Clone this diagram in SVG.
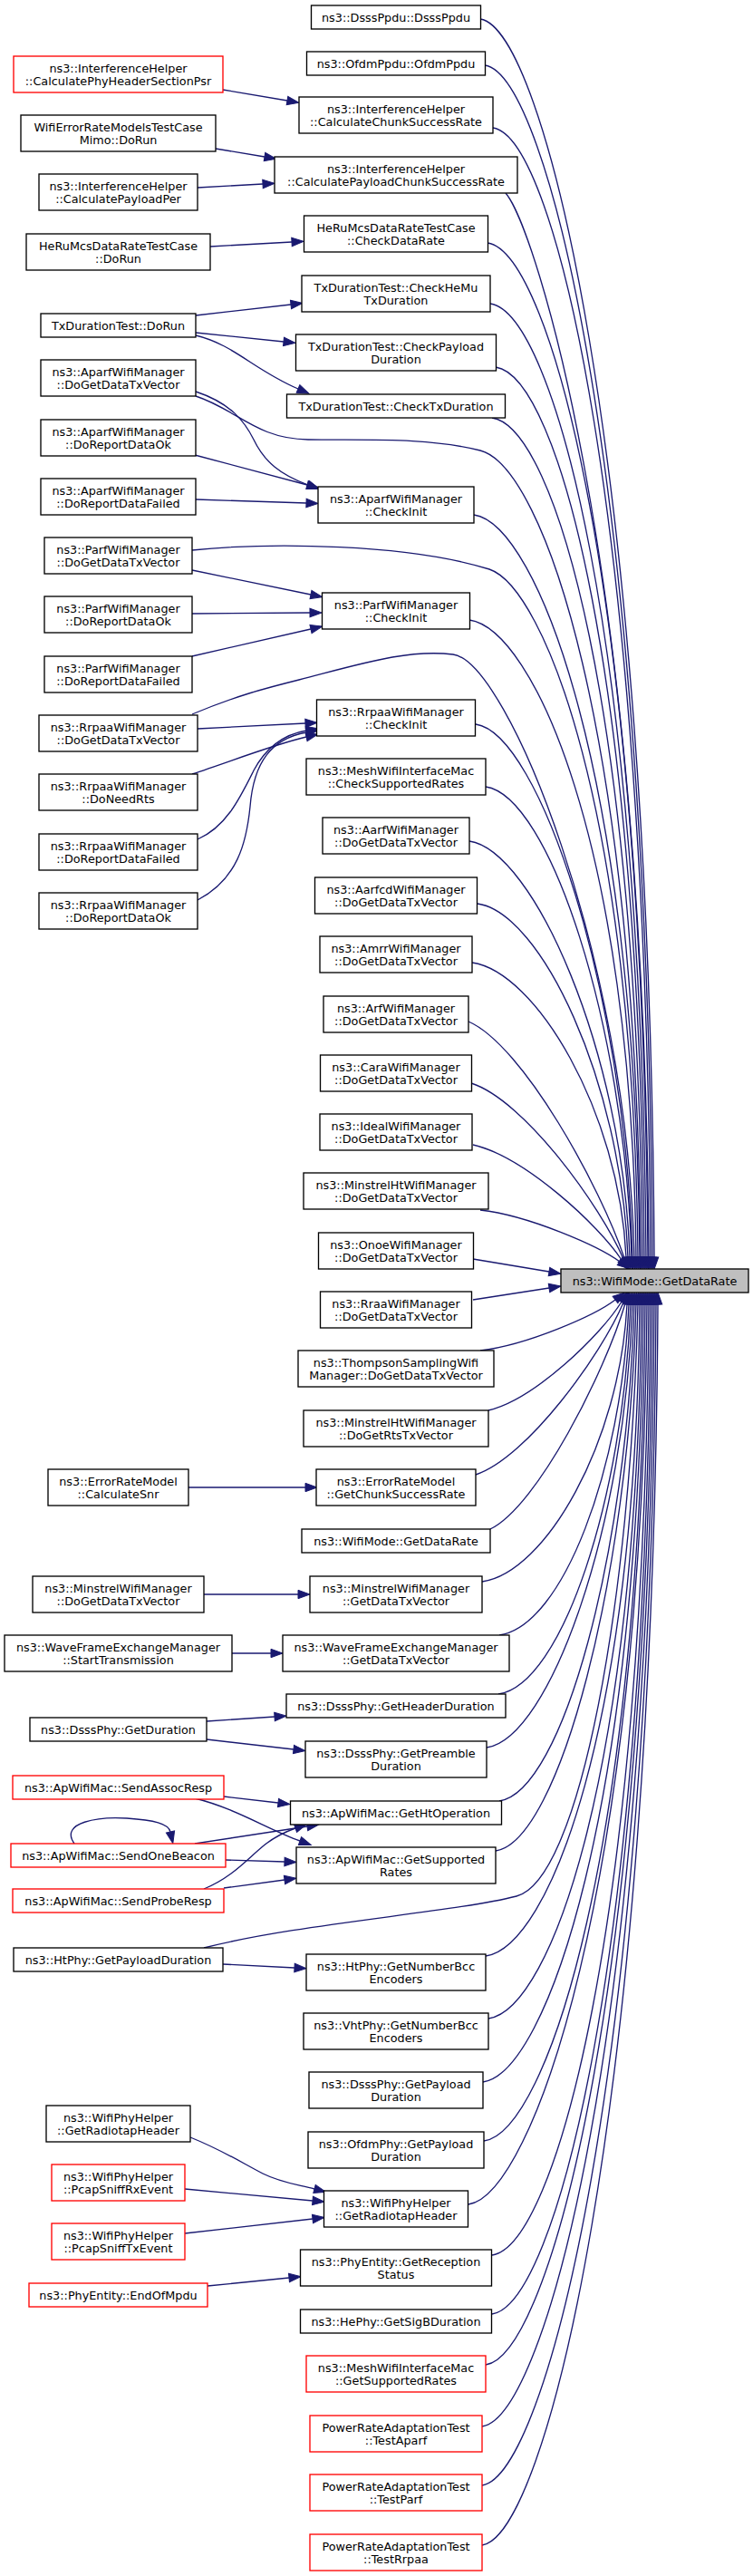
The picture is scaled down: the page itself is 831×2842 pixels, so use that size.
<svg xmlns="http://www.w3.org/2000/svg" width="831" height="2842" viewBox="0 0 831 2842">
<style>
.nd rect{fill:#fff;stroke:#000;stroke-width:1.33}
.rd rect{fill:#fff;stroke:#f00;stroke-width:1.33}
.tg rect{fill:#bfbfbf;stroke:#000;stroke-width:1.33}
text{font-family:"DejaVu Sans",sans-serif;font-size:12.8px;text-anchor:middle;fill:#000}
.edges path{fill:none;stroke:#191970;stroke-width:1.33;marker-end:url(#a)}
</style>
<defs>
<marker id="a" markerWidth="13" markerHeight="10" refX="0" refY="5" orient="auto" markerUnits="userSpaceOnUse" viewBox="0 0 13 10" overflow="visible">
<path d="M0,0.3 L13,5 L0,9.7 z" fill="#191970" stroke="#191970" stroke-width="1"/>
</marker>
</defs>
<rect width="831" height="2842" fill="#fff"/>
<g class="edges">
<path d="M246,99 L317,111"/>
<path d="M238,164 L292,173"/>
<path d="M218,207 L290,203"/>
<path d="M232,272 L322,267"/>
<path d="M216,348 L321,336"/>
<path d="M216,367 L313,377"/>
<path d="M216,370 C258,380 280,408 329,429"/>
<path d="M216,432 C255,445 270,465 280,485 C292,510 310,524 340,535"/>
<path d="M215,502 L339,535"/>
<path d="M216,551 L338,555"/>
<path d="M212,629 L343,656"/>
<path d="M212,677 L342,676"/>
<path d="M212,724 L343,694"/>
<path d="M218,804 L337,798"/>
<path d="M212,854 C255,840 300,822 338,813"/>
<path d="M218,926 C250,912 265,880 280,850 C295,822 315,810 338,806"/>
<path d="M218,993 C262,970 272,930 276,890 C280,840 300,815 338,808"/>
<path d="M208,1641 L337,1641"/>
<path d="M225,1759 L329,1759"/>
<path d="M256,1824 L299,1824"/>
<path d="M228,1899 L303,1894"/>
<path d="M228,1919 L324,1930"/>
<path d="M247,1982 L307,1989"/>
<path d="M215,1984 C260,1995 295,2018 331,2031"/>
<path d="M82,2034 C65,2010 110,2004 140,2006 C170,2008 186,2012 188,2021"/>
<path d="M215,2034 L339,2015"/>
<path d="M249,2052 L314,2054"/>
<path d="M225,2084 C255,2072 272,2052 290,2037 C302,2027 312,2022 326,2017"/>
<path d="M247,2083 L314,2074"/>
<path d="M246,2167 L325,2171"/>
<path d="M210,2358 C245,2372 265,2385 290,2398 C310,2408 328,2410 347,2415"/>
<path d="M204,2415 L345,2428"/>
<path d="M204,2464 L345,2448"/>
<path d="M229,2522 L319,2513"/>
<path d="M522,1389 L606,1403"/>
<path d="M522,1434 L606,1421"/>
<path d="M530,1335 C584,1341 661,1375 684,1392"/>
<path d="M522,1263 C579,1276 661,1352 686,1390"/>
<path d="M520,1195 C579,1214 663,1331 688,1389"/>
<path d="M517,1127 C577,1153 663,1310 689,1388"/>
<path d="M521,1062 C591,1072 683,1225 691,1387"/>
<path d="M527,997 C597,1007 685,1192 693,1387"/>
<path d="M518,928 C588,938 687,1158 695,1387"/>
<path d="M536,868 C606,878 689,1128 697,1387"/>
<path d="M525,799 C595,809 690,1093 698,1387"/>
<path d="M212,788 C260,768 290,760 330,750 C400,732 450,716 500,722 C560,730 692,1054 700,1387"/>
<path d="M518,684 C588,694 697,930 702,1387"/>
<path d="M212,607 C300,598 450,600 540,628 C600,648 699,894 704,1387"/>
<path d="M523,568 C593,578 701,855 706,1387"/>
<path d="M216,437 C262,452 282,484 340,485 C400,486 470,482 530,497 C600,515 702,809 707,1387"/>
<path d="M543,461 C613,471 704,785 709,1387"/>
<path d="M547,405 C617,415 706,749 711,1387"/>
<path d="M541,335 C611,345 708,703 713,1387"/>
<path d="M538,268 C608,278 710,660 715,1387"/>
<path d="M558,213 C590,250 711,624 716,1387"/>
<path d="M544,141 C614,151 713,577 718,1387"/>
<path d="M535,72 C605,82 715,532 720,1387"/>
<path d="M530,21 C600,31 717,499 722,1387"/>
<path d="M530,1490 C582,1484 657,1451 679,1434"/>
<path d="M539,1556 C590,1544 664,1472 686,1436"/>
<path d="M525,1627 C582,1608 664,1494 688,1437"/>
<path d="M541,1687 C593,1662 668,1513 690,1438"/>
<path d="M532,1745 C602,1735 684,1592 692,1439"/>
<path d="M551,1804 C621,1794 686,1622 694,1439"/>
<path d="M550,1869 C620,1859 688,1654 696,1439"/>
<path d="M537,1928 C607,1918 690,1684 698,1439"/>
<path d="M551,1987 C621,1977 692,1713 700,1439"/>
<path d="M547,2042 C617,2032 694,1741 702,1439"/>
<path d="M225,2149 C330,2122 500,2110 570,2092 C640,2074 696,1766 704,1439"/>
<path d="M536,2158 C606,2148 701,1906 706,1439"/>
<path d="M539,2227 C609,2217 703,1951 708,1439"/>
<path d="M533,2297 C603,2287 705,1997 710,1439"/>
<path d="M534,2362 C604,2352 707,2039 712,1439"/>
<path d="M517,2432 C587,2422 709,2084 714,1439"/>
<path d="M543,2488 C613,2478 711,2121 716,1439"/>
<path d="M543,2553 C613,2543 713,2163 718,1439"/>
<path d="M536,2609 C606,2599 715,2200 720,1439"/>
<path d="M532,2677 C602,2667 717,2244 722,1439"/>
<path d="M532,2742 C602,2732 719,2286 724,1439"/>
<path d="M532,2808 C602,2798 721,2329 726,1439"/>
</g>
<g id="n_target" class="tg"><rect x="619" y="1400" width="207" height="26"/><text x="722.5" y="1417.5">ns3::WifiMode::GetDataRate</text></g>
<g id="n_dssspdu" class="nd"><rect x="343.5" y="6" width="187" height="26"/><text x="437" y="23.5">ns3::DsssPpdu::DsssPpdu</text></g>
<g id="n_ofdmppdu" class="nd"><rect x="338.5" y="57" width="197" height="26"/><text x="437" y="74.5">ns3::OfdmPpdu::OfdmPpdu</text></g>
<g id="n_calcchunk" class="nd"><rect x="330" y="107" width="214" height="40"/><text x="437" y="124.6">ns3::InterferenceHelper</text><text x="437" y="138.6">::CalculateChunkSuccessRate</text></g>
<g id="n_calcpayloadchunk" class="nd"><rect x="303" y="173" width="268" height="40"/><text x="437" y="190.6">ns3::InterferenceHelper</text><text x="437" y="204.6">::CalculatePayloadChunkSuccessRate</text></g>
<g id="n_checkdatarate" class="nd"><rect x="335.5" y="238" width="203" height="40"/><text x="437" y="255.6">HeRuMcsDataRateTestCase</text><text x="437" y="269.6">::CheckDataRate</text></g>
<g id="n_checkhemu" class="nd"><rect x="333" y="304" width="208" height="40"/><text x="437" y="321.6">TxDurationTest::CheckHeMu</text><text x="437" y="335.6">TxDuration</text></g>
<g id="n_checkpayload" class="nd"><rect x="326.5" y="369" width="221" height="40"/><text x="437" y="386.6">TxDurationTest::CheckPayload</text><text x="437" y="400.6">Duration</text></g>
<g id="n_checktx" class="nd"><rect x="316.5" y="435" width="241" height="26"/><text x="437" y="452.5">TxDurationTest::CheckTxDuration</text></g>
<g id="n_aparfinit" class="nd"><rect x="351" y="537" width="172" height="40"/><text x="437" y="554.6">ns3::AparfWifiManager</text><text x="437" y="568.6">::CheckInit</text></g>
<g id="n_parfinit" class="nd"><rect x="355.5" y="654" width="163" height="40"/><text x="437" y="671.6">ns3::ParfWifiManager</text><text x="437" y="685.6">::CheckInit</text></g>
<g id="n_rrpaainit" class="nd"><rect x="349.5" y="772" width="175" height="40"/><text x="437" y="789.6">ns3::RrpaaWifiManager</text><text x="437" y="803.6">::CheckInit</text></g>
<g id="n_meshcheck" class="nd"><rect x="338" y="837" width="198" height="40"/><text x="437" y="854.6">ns3::MeshWifiInterfaceMac</text><text x="437" y="868.6">::CheckSupportedRates</text></g>
<g id="n_aarf" class="nd"><rect x="356" y="902" width="162" height="40"/><text x="437" y="919.6">ns3::AarfWifiManager</text><text x="437" y="933.6">::DoGetDataTxVector</text></g>
<g id="n_aarfcd" class="nd"><rect x="347.5" y="968" width="179" height="40"/><text x="437" y="985.6">ns3::AarfcdWifiManager</text><text x="437" y="999.6">::DoGetDataTxVector</text></g>
<g id="n_amrr" class="nd"><rect x="353" y="1033" width="168" height="40"/><text x="437" y="1050.6">ns3::AmrrWifiManager</text><text x="437" y="1064.6">::DoGetDataTxVector</text></g>
<g id="n_arf" class="nd"><rect x="357" y="1099" width="160" height="40"/><text x="437" y="1116.6">ns3::ArfWifiManager</text><text x="437" y="1130.6">::DoGetDataTxVector</text></g>
<g id="n_cara" class="nd"><rect x="353.5" y="1164" width="167" height="40"/><text x="437" y="1181.6">ns3::CaraWifiManager</text><text x="437" y="1195.6">::DoGetDataTxVector</text></g>
<g id="n_ideal" class="nd"><rect x="353" y="1229" width="168" height="40"/><text x="437" y="1246.6">ns3::IdealWifiManager</text><text x="437" y="1260.6">::DoGetDataTxVector</text></g>
<g id="n_minstrelht" class="nd"><rect x="335" y="1294" width="204" height="40"/><text x="437" y="1311.6">ns3::MinstrelHtWifiManager</text><text x="437" y="1325.6">::DoGetDataTxVector</text></g>
<g id="n_onoe" class="nd"><rect x="351.5" y="1360" width="171" height="40"/><text x="437" y="1377.6">ns3::OnoeWifiManager</text><text x="437" y="1391.6">::DoGetDataTxVector</text></g>
<g id="n_rraa" class="nd"><rect x="353.5" y="1425" width="167" height="40"/><text x="437" y="1442.6">ns3::RraaWifiManager</text><text x="437" y="1456.6">::DoGetDataTxVector</text></g>
<g id="n_thompson" class="nd"><rect x="329" y="1490" width="216" height="40"/><text x="437" y="1507.6">ns3::ThompsonSamplingWifi</text><text x="437" y="1521.6">Manager::DoGetDataTxVector</text></g>
<g id="n_minstrelhtrts" class="nd"><rect x="335" y="1556" width="204" height="40"/><text x="437" y="1573.6">ns3::MinstrelHtWifiManager</text><text x="437" y="1587.6">::DoGetRtsTxVector</text></g>
<g id="n_getchunk" class="nd"><rect x="349" y="1621" width="176" height="40"/><text x="437" y="1638.6">ns3::ErrorRateModel</text><text x="437" y="1652.6">::GetChunkSuccessRate</text></g>
<g id="n_wifimode2" class="nd"><rect x="333" y="1687" width="208" height="26"/><text x="437" y="1704.5">ns3::WifiMode::GetDataRate</text></g>
<g id="n_minstrelget" class="nd"><rect x="342" y="1739" width="190" height="40"/><text x="437" y="1756.6">ns3::MinstrelWifiManager</text><text x="437" y="1770.6">::GetDataTxVector</text></g>
<g id="n_waveget" class="nd"><rect x="312" y="1804" width="250" height="40"/><text x="437" y="1821.6">ns3::WaveFrameExchangeManager</text><text x="437" y="1835.6">::GetDataTxVector</text></g>
<g id="n_header" class="nd"><rect x="316" y="1869" width="242" height="26"/><text x="437" y="1886.5">ns3::DsssPhy::GetHeaderDuration</text></g>
<g id="n_preamble" class="nd"><rect x="337" y="1921" width="200" height="40"/><text x="437" y="1938.6">ns3::DsssPhy::GetPreamble</text><text x="437" y="1952.6">Duration</text></g>
<g id="n_htop" class="nd"><rect x="320.5" y="1987" width="233" height="26"/><text x="437" y="2004.5">ns3::ApWifiMac::GetHtOperation</text></g>
<g id="n_suprates" class="nd"><rect x="327" y="2038" width="220" height="40"/><text x="437" y="2055.6">ns3::ApWifiMac::GetSupported</text><text x="437" y="2069.6">Rates</text></g>
<g id="n_htbcc" class="nd"><rect x="338" y="2156" width="198" height="40"/><text x="437" y="2173.6">ns3::HtPhy::GetNumberBcc</text><text x="437" y="2187.6">Encoders</text></g>
<g id="n_vhtbcc" class="nd"><rect x="335" y="2221" width="204" height="40"/><text x="437" y="2238.6">ns3::VhtPhy::GetNumberBcc</text><text x="437" y="2252.6">Encoders</text></g>
<g id="n_dssspayload" class="nd"><rect x="341" y="2286" width="192" height="40"/><text x="437" y="2303.6">ns3::DsssPhy::GetPayload</text><text x="437" y="2317.6">Duration</text></g>
<g id="n_ofdmpayload" class="nd"><rect x="340" y="2352" width="194" height="40"/><text x="437" y="2369.6">ns3::OfdmPhy::GetPayload</text><text x="437" y="2383.6">Duration</text></g>
<g id="n_radiotap" class="nd"><rect x="357.5" y="2417" width="159" height="40"/><text x="437" y="2434.6">ns3::WifiPhyHelper</text><text x="437" y="2448.6">::GetRadiotapHeader</text></g>
<g id="n_reception" class="nd"><rect x="331.5" y="2482" width="211" height="40"/><text x="437" y="2499.6">ns3::PhyEntity::GetReception</text><text x="437" y="2513.6">Status</text></g>
<g id="n_sigb" class="nd"><rect x="331.5" y="2548" width="211" height="26"/><text x="437" y="2565.5">ns3::HePhy::GetSigBDuration</text></g>
<g id="n_meshsup" class="rd"><rect x="338" y="2599" width="198" height="40"/><text x="437" y="2616.6">ns3::MeshWifiInterfaceMac</text><text x="437" y="2630.6">::GetSupportedRates</text></g>
<g id="n_testaparf" class="rd"><rect x="342" y="2665" width="190" height="40"/><text x="437" y="2682.6">PowerRateAdaptationTest</text><text x="437" y="2696.6">::TestAparf</text></g>
<g id="n_testparf" class="rd"><rect x="342" y="2730" width="190" height="40"/><text x="437" y="2747.6">PowerRateAdaptationTest</text><text x="437" y="2761.6">::TestParf</text></g>
<g id="n_testrrpaa" class="rd"><rect x="342" y="2796" width="190" height="40"/><text x="437" y="2813.6">PowerRateAdaptationTest</text><text x="437" y="2827.6">::TestRrpaa</text></g>
<g id="n_phyheader" class="rd"><rect x="15" y="62" width="231" height="40"/><text x="130.5" y="79.6">ns3::InterferenceHelper</text><text x="130.5" y="93.6">::CalculatePhyHeaderSectionPsr</text></g>
<g id="n_mimo" class="nd"><rect x="23" y="127" width="215" height="40"/><text x="130.5" y="144.6">WifiErrorRateModelsTestCase</text><text x="130.5" y="158.6">Mimo::DoRun</text></g>
<g id="n_payloadper" class="nd"><rect x="43" y="192" width="175" height="40"/><text x="130.5" y="209.6">ns3::InterferenceHelper</text><text x="130.5" y="223.6">::CalculatePayloadPer</text></g>
<g id="n_herurun" class="nd"><rect x="29" y="258" width="203" height="40"/><text x="130.5" y="275.6">HeRuMcsDataRateTestCase</text><text x="130.5" y="289.6">::DoRun</text></g>
<g id="n_txrun" class="nd"><rect x="45" y="346" width="171" height="26"/><text x="130.5" y="363.5">TxDurationTest::DoRun</text></g>
<g id="n_aparfget" class="nd"><rect x="45" y="397" width="171" height="40"/><text x="130.5" y="414.6">ns3::AparfWifiManager</text><text x="130.5" y="428.6">::DoGetDataTxVector</text></g>
<g id="n_aparfok" class="nd"><rect x="45" y="463" width="171" height="40"/><text x="130.5" y="480.6">ns3::AparfWifiManager</text><text x="130.5" y="494.6">::DoReportDataOk</text></g>
<g id="n_aparffail" class="nd"><rect x="45" y="528" width="171" height="40"/><text x="130.5" y="545.6">ns3::AparfWifiManager</text><text x="130.5" y="559.6">::DoReportDataFailed</text></g>
<g id="n_parfget" class="nd"><rect x="49" y="593" width="163" height="40"/><text x="130.5" y="610.6">ns3::ParfWifiManager</text><text x="130.5" y="624.6">::DoGetDataTxVector</text></g>
<g id="n_parfok" class="nd"><rect x="49" y="658" width="163" height="40"/><text x="130.5" y="675.6">ns3::ParfWifiManager</text><text x="130.5" y="689.6">::DoReportDataOk</text></g>
<g id="n_parffail" class="nd"><rect x="49" y="724" width="163" height="40"/><text x="130.5" y="741.6">ns3::ParfWifiManager</text><text x="130.5" y="755.6">::DoReportDataFailed</text></g>
<g id="n_rrpaaget" class="nd"><rect x="43" y="789" width="175" height="40"/><text x="130.5" y="806.6">ns3::RrpaaWifiManager</text><text x="130.5" y="820.6">::DoGetDataTxVector</text></g>
<g id="n_rrpaarts" class="nd"><rect x="43" y="854" width="175" height="40"/><text x="130.5" y="871.6">ns3::RrpaaWifiManager</text><text x="130.5" y="885.6">::DoNeedRts</text></g>
<g id="n_rrpaafail" class="nd"><rect x="43" y="920" width="175" height="40"/><text x="130.5" y="937.6">ns3::RrpaaWifiManager</text><text x="130.5" y="951.6">::DoReportDataFailed</text></g>
<g id="n_rrpaaok" class="nd"><rect x="43" y="985" width="175" height="40"/><text x="130.5" y="1002.6">ns3::RrpaaWifiManager</text><text x="130.5" y="1016.6">::DoReportDataOk</text></g>
<g id="n_snr" class="nd"><rect x="53" y="1621" width="155" height="40"/><text x="130.5" y="1638.6">ns3::ErrorRateModel</text><text x="130.5" y="1652.6">::CalculateSnr</text></g>
<g id="n_minstreldoget" class="nd"><rect x="36" y="1739" width="189" height="40"/><text x="130.5" y="1756.6">ns3::MinstrelWifiManager</text><text x="130.5" y="1770.6">::DoGetDataTxVector</text></g>
<g id="n_wavestart" class="nd"><rect x="5" y="1804" width="251" height="40"/><text x="130.5" y="1821.6">ns3::WaveFrameExchangeManager</text><text x="130.5" y="1835.6">::StartTransmission</text></g>
<g id="n_getduration" class="nd"><rect x="33" y="1895" width="195" height="26"/><text x="130.5" y="1912.5">ns3::DsssPhy::GetDuration</text></g>
<g id="n_assoc" class="rd"><rect x="14" y="1959" width="233" height="26"/><text x="130.5" y="1976.5">ns3::ApWifiMac::SendAssocResp</text></g>
<g id="n_beacon" class="rd"><rect x="12" y="2034" width="237" height="26"/><text x="130.5" y="2051.5">ns3::ApWifiMac::SendOneBeacon</text></g>
<g id="n_probe" class="rd"><rect x="14" y="2084" width="233" height="26"/><text x="130.5" y="2101.5">ns3::ApWifiMac::SendProbeResp</text></g>
<g id="n_htpayload" class="nd"><rect x="15" y="2149" width="231" height="26"/><text x="130.5" y="2166.5">ns3::HtPhy::GetPayloadDuration</text></g>
<g id="n_radiotapl" class="nd"><rect x="51" y="2323" width="159" height="40"/><text x="130.5" y="2340.6">ns3::WifiPhyHelper</text><text x="130.5" y="2354.6">::GetRadiotapHeader</text></g>
<g id="n_sniffrx" class="rd"><rect x="57" y="2388" width="147" height="40"/><text x="130.5" y="2405.6">ns3::WifiPhyHelper</text><text x="130.5" y="2419.6">::PcapSniffRxEvent</text></g>
<g id="n_snifftx" class="rd"><rect x="57" y="2453" width="147" height="40"/><text x="130.5" y="2470.6">ns3::WifiPhyHelper</text><text x="130.5" y="2484.6">::PcapSniffTxEvent</text></g>
<g id="n_endmpdu" class="rd"><rect x="32" y="2519" width="197" height="26"/><text x="130.5" y="2536.5">ns3::PhyEntity::EndOfMpdu</text></g>
</svg>
